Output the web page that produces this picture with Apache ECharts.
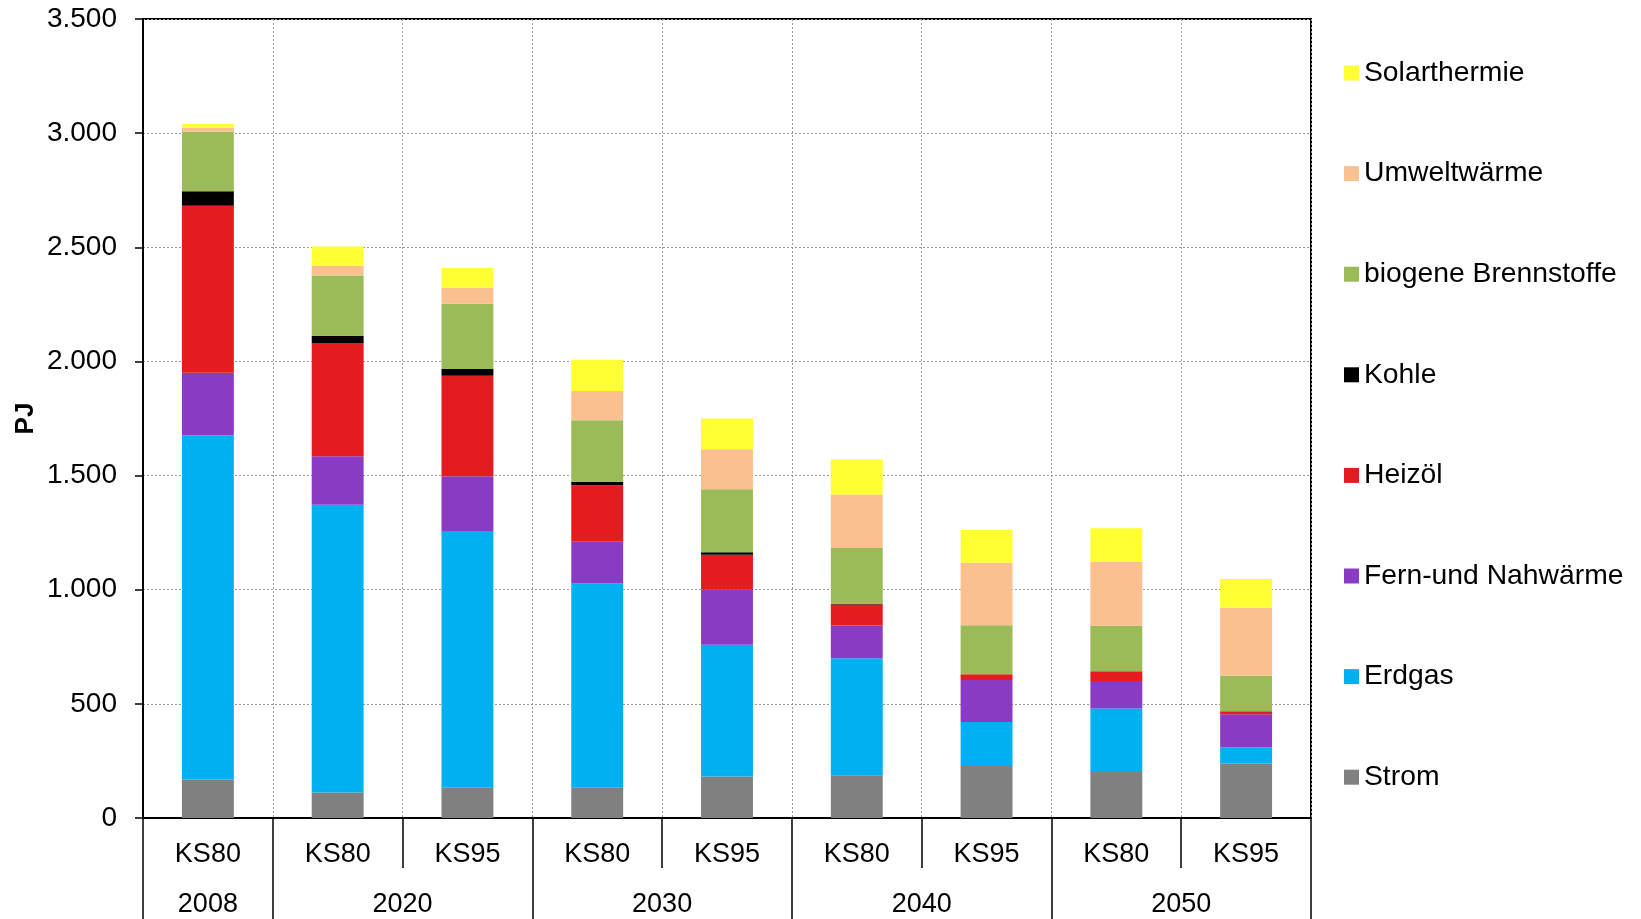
<!DOCTYPE html>
<html>
<head>
<meta charset="utf-8">
<script src="https://cdn.jsdelivr.net/npm/echarts@6/dist/echarts.min.js"></script>
<style>
html,body{margin:0;padding:0;background:#fff;}
#chart{width:1641px;height:919px;}
</style>
</head>
<body>
<div id="chart"></div>
<script>
// ---- data ----
var categories = ['KS80','KS80','KS95','KS80','KS95','KS80','KS95','KS80','KS95'];
var groups = ['2008','2020','2030','2040','2050'];
var groupSizes = [1,2,2,2,2];
var yTickLabels = ['0','500','1.000','1.500','2.000','2.500','3.000','3.500'];

var strom        = [169,112,133,132,182,185,228,202,239];
var erdgas       = [1508,1260,1121,895,577,515,192,278,71];
var fernwaerme   = [273,213,243,183,241,143,184,120,145];
var heizoel      = [732,496,440,248,153,92,26,43,13];
var kohle        = [63,32,30,15,11,4,0,0,0];
var biogene      = [261,263,286,269,276,244,214,199,155];
var umweltwaerme = [18,43,70,129,175,234,274,279,298];
var solar        = [16,84,86,136,135,155,144,148,126];

var seriesNames = ['Strom','Erdgas','Fern-und Nahwärme','Heizöl','Kohle','biogene Brennstoffe','Umweltwärme','Solarthermie'];
var seriesData = [strom,erdgas,fernwaerme,heizoel,kohle,biogene,umweltwaerme,solar];
var seriesColors = ['#808080','#00B0F0','#8A3BC3','#E41B1F','#000000','#9BBB59','#FAC090','#FFFF33'];

// group boundaries and centers
var bounds = [0], centers = [];
groupSizes.forEach(function(s){ var b = bounds[bounds.length-1]; centers.push(b + s/2); bounds.push(b + s); });

var FONT = '"Liberation Sans", Arial, sans-serif';

var chart = echarts.init(document.getElementById('chart'));
var option = {
  animation: false,
  backgroundColor: '#fff',
  textStyle: { fontFamily: FONT },
  grid: { left: 143, right: 330, top: 19, bottom: 101, show: true, borderColor: '#000', borderWidth: 2, backgroundColor: 'transparent', containLabel: false, outerBoundsMode: 'none' },
  legend: {
    orient: 'vertical',
    left: 1344, top: 59,
    padding: 0,
    itemWidth: 15, itemHeight: 15, itemGap: 72.6,
    icon: 'rect',
    data: seriesNames.slice().reverse(),
    textStyle: { fontFamily: FONT, fontSize: 28.3, color: '#000', lineHeight: 28 }
  },
  xAxis: [
    {
      type: 'category',
      data: categories,
      position: 'bottom',
      axisLine: { show: true, lineStyle: { color: '#000', width: 2 } },
      axisTick: { show: true, inside: false, length: 50, interval: 0, lineStyle: { color: '#000', width: 1.5 } },
      axisLabel: { interval: 0, margin: 23, fontSize: 27, color: '#000', fontFamily: FONT, lineHeight: 28 },
      splitLine: { show: true, interval: 0, lineStyle: { color: '#999', type: [2,2], width: 1 } }
    },
    {
      type: 'value',
      min: 0, max: categories.length,
      position: 'bottom',
      offset: 0,
      axisLine: { show: false },
      axisTick: { show: true, length: 101, customValues: bounds, lineStyle: { color: '#000', width: 1.5 } },
      axisLabel: {
        customValues: centers,
        margin: 73, fontSize: 27, color: '#000', fontFamily: FONT, lineHeight: 28,
        formatter: function(v){ var i = centers.indexOf(v); return i >= 0 ? groups[i] : ''; }
      },
      splitLine: { show: false }
    }
  ],
  yAxis: {
    type: 'value',
    min: 0, max: 3500, interval: 500,
    name: 'PJ',
    nameLocation: 'middle',
    nameRotate: 90,
    nameGap: 104,
    nameMoveOverlap: false,
    nameTextStyle: { fontSize: 26, fontWeight: 'bold', color: '#000', fontFamily: FONT },
    axisLine: { show: true, lineStyle: { color: '#000', width: 2 } },
    axisTick: { show: true, inside: false, length: 8, lineStyle: { color: '#000', width: 1.5 } },
    axisLabel: {
      margin: 26, fontSize: 28, color: '#000', fontFamily: FONT,
      formatter: function(v){ return yTickLabels[Math.round(v/500)]; }
    },
    splitLine: { show: true, lineStyle: { color: '#999', type: [2,2], width: 1 } }
  },
  series: seriesNames.map(function(n, i){
    return {
      name: n,
      type: 'bar',
      stack: 'total',
      xAxisIndex: 0,
      barWidth: '40%',
      data: seriesData[i],
      itemStyle: { color: seriesColors[i] }
    };
  })
};
chart.setOption(option);
</script>
</body>
</html>
